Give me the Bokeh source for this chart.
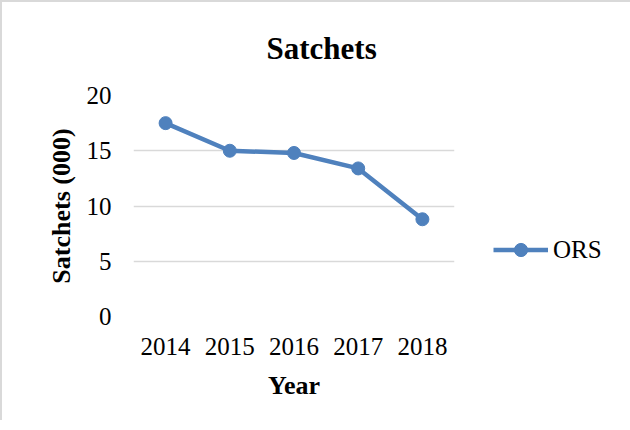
from bokeh.plotting import figure
from bokeh.models import Range1d, FixedTicker, Legend, LegendItem, Title
from bokeh.embed import file_html
from bokeh.resources import INLINE

years = [2014, 2015, 2016, 2017, 2018]
ors = [17.5, 15.0, 14.8, 13.4, 8.8]
y_ticks = [0, 5, 10, 15, 20]

title_text = "Satchets"
x_label = "Year"
y_label = "Satchets (000)"
series_name = "ORS"

BLUE = "#4F81BD"
GRID = "#d9d9d9"
FONT = "Liberation Serif"

p = figure(frame_width=321, frame_height=221, output_backend="svg", toolbar_location=None,
           x_range=Range1d(2013.5, 2018.5), y_range=Range1d(0, 20),
           min_border_left=131, min_border_right=166, min_border_top=93, min_border_bottom=104)
p.title = None
p.outline_line_color = None
p.background_fill_color = "white"
p.border_fill_color = "white"
p.styles = {"border-left": "2px solid #d9d9d9", "border-top": "2px solid #d9d9d9"}

p.xgrid.grid_line_color = None
p.ygrid.grid_line_color = GRID
p.ygrid.grid_line_width = 1.5

p.xaxis.ticker = FixedTicker(ticks=years)
p.yaxis.ticker = FixedTicker(ticks=y_ticks)
for ax in (p.xaxis, p.yaxis):
    ax.axis_line_color = None
    ax.major_tick_line_color = None
    ax.minor_tick_line_color = None
    ax.major_tick_in = 0
    ax.major_tick_out = 0
    ax.minor_tick_in = 0
    ax.minor_tick_out = 0
    ax.major_label_text_font = FONT
    ax.major_label_text_font_size = "25px"
    ax.major_label_text_color = "black"
    ax.axis_label_text_font = FONT
    ax.axis_label_text_font_size = "26px"
    ax.axis_label_text_font_style = "bold"
    ax.axis_label_text_color = "black"
p.xaxis.axis_label = x_label
p.yaxis.axis_label = y_label
p.xaxis.major_label_standoff = 21
p.yaxis.major_label_standoff = 22
p.xaxis.axis_label_standoff = 13
p.yaxis.axis_label_standoff = 8

line = p.line(years, ors, line_color=BLUE, line_width=4.5)
pts = p.scatter(years, ors, size=13, fill_color=BLUE, line_color=BLUE)

title = Title(text=title_text, text_font=FONT, text_font_size="31px", text_font_style="bold",
              text_color="black", align="left", offset=133, standoff=55, vertical_align="top")
p.add_layout(title, "above")

legend = Legend(items=[LegendItem(label=series_name, renderers=[line, pts])],
                location=(39, 50), padding=0, margin=0, border_line_color=None,
                background_fill_alpha=0, glyph_width=55, glyph_height=33, label_height=33,
                label_standoff=5, label_text_font=FONT, label_text_font_size="25px",
                label_text_color="black")
p.add_layout(legend, "right")

open("out.html", "w").write(file_html(p, INLINE))
